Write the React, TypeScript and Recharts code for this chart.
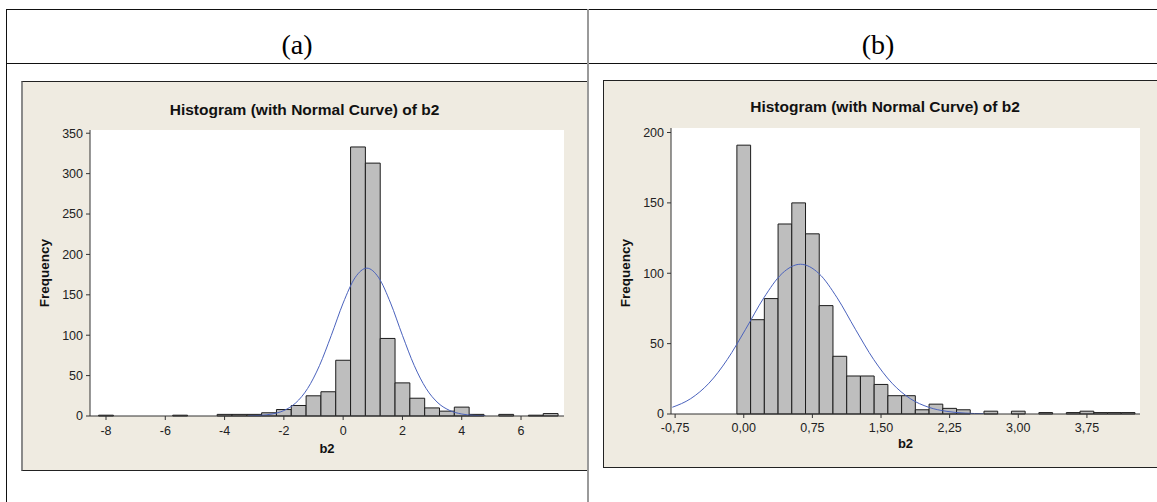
import React from 'react';
import {
  ComposedChart,
  Line,
  XAxis,
  YAxis,
  CartesianGrid,
  ReferenceArea,
} from 'recharts';

// ---------- Panel (a) data ----------
const BIN_WIDTH_A = 0.5;
const BIN_CENTERS_A = [-8, -5.5, -4, -3.5, -3, -2.5, -2, -1.5, -1, -0.5, 0, 0.5, 1, 1.5, 2, 2.5, 3, 3.5, 4, 4.5, 5.5, 6.5, 7];
const COUNTS_A = [1, 1, 2, 2, 2, 4, 8, 13, 25, 30, 69, 333, 313, 96, 41, 22, 10, 6, 11, 2, 2, 1, 3];
const CURVE_X_A = [-3.2, -2.8, -2.4, -2.0, -1.6, -1.2, -0.8, -0.4, 0.0, 0.4, 0.8, 1.2, 1.6, 2.0, 2.4, 2.8, 3.2, 3.6, 4.0, 4.4, 4.8];
const CURVE_Y_A = [0.22, 0.78, 2.46, 6.75, 16.2, 34.0, 62.3, 99.8, 139.8, 171.1, 183, 171.1, 139.8, 99.8, 62.3, 34.0, 16.2, 6.75, 2.46, 0.78, 0.22];
const X_TICKS_A = [-8, -6, -4, -2, 0, 2, 4, 6];
const Y_TICKS_A = [0, 50, 100, 150, 200, 250, 300, 350];
const X_DOMAIN_A: [number, number] = [-8.54, 7.45];
const Y_DOMAIN_A: [number, number] = [0, 354];

// ---------- Panel (b) data ----------
const BIN_WIDTH_B = 0.15;
const BIN_CENTERS_B = [0, 0.15, 0.3, 0.45, 0.6, 0.75, 0.9, 1.05, 1.2, 1.35, 1.5, 1.65, 1.8, 1.95, 2.1, 2.25, 2.4, 2.55, 2.7, 2.85, 3.0, 3.15, 3.3, 3.45, 3.6, 3.75, 3.9, 4.05, 4.2];
const COUNTS_B = [191, 67, 82, 135, 150, 128, 77, 41, 27, 27, 21, 13, 13, 3, 7, 4, 3, 0, 2, 0, 2, 0, 1, 0, 1, 2, 1, 1, 1];
const CURVE_X_B = [-0.78, -0.58, -0.38, -0.18, 0.02, 0.22, 0.42, 0.62, 0.82, 1.02, 1.22, 1.42, 1.62, 1.82, 2.02, 2.22, 2.42, 2.62];
const CURVE_Y_B = [4.8, 10.9, 21.9, 38.7, 60.2, 82.6, 99.9, 106.4, 99.9, 82.6, 60.2, 38.7, 21.9, 10.9, 4.8, 1.86, 0.63, 0.19];
const X_TICKS_B = [-0.75, 0, 0.75, 1.5, 2.25, 3.0, 3.75];
const Y_TICKS_B = [0, 50, 100, 150, 200];
const X_DOMAIN_B: [number, number] = [-0.795, 4.33];
const Y_DOMAIN_B: [number, number] = [0, 203.2];

const TITLE = 'Histogram (with Normal Curve) of b2';
const X_LABEL = 'b2';
const Y_LABEL = 'Frequency';
const HEADERS = ['(a)', '(b)'];

const FONT = '"Liberation Sans", Arial, Helvetica, sans-serif';
const BOX_BG = '#efebe1';
const BAR_FILL = '#bebebe';
const BAR_STROKE = '#1c1c1c';
const CURVE = '#4a62bd';
const AXIS = '#333333';
const FRAME = '#4a4a4a';
const TICK_TEXT = '#222222';

const tickStyle = { fontSize: 12.5, fill: TICK_TEXT, fontFamily: FONT };

const fmtComma = (v: number) => v.toFixed(2).replace('.', ',');

interface HistProps {
  width: number;
  height: number;
  margin: { top: number; right: number; bottom: number; left: number };
  yAxisWidth: number;
  xAxisHeight: number;
  centers: number[];
  counts: number[];
  binWidth: number;
  curveX: number[];
  curveY: number[];
  xTicks: number[];
  yTicks: number[];
  xDomain: [number, number];
  yDomain: [number, number];
  xTickMargin: number;
  xFormatter?: (v: number) => string;
}

function Histogram(p: HistProps) {
  const curveData = p.curveX.map((x, i) => ({ x, y: p.curveY[i] }));
  return (
    <ComposedChart width={p.width} height={p.height} data={curveData} margin={p.margin}>
      <CartesianGrid horizontal={false} vertical={false} fill="#ffffff" stroke="none" />
      <XAxis
        type="number"
        dataKey="x"
        domain={p.xDomain}
        ticks={p.xTicks}
        interval={0}
        allowDataOverflow
        height={p.xAxisHeight}
        tickSize={4}
        tickMargin={p.xTickMargin}
        tick={tickStyle}
        tickFormatter={p.xFormatter}
        stroke={AXIS}
      />
      <XAxis
        xAxisId="top"
        orientation="top"
        type="number"
        domain={p.xDomain}
        allowDataOverflow
        height={0}
        tick={false}
        tickLine={false}
        stroke={FRAME}
      />
      <YAxis
        type="number"
        domain={p.yDomain}
        ticks={p.yTicks}
        interval={0}
        allowDataOverflow
        width={p.yAxisWidth}
        tickSize={4}
        tickMargin={3}
        tick={tickStyle}
        stroke={AXIS}
      />
      <YAxis
        yAxisId="right"
        orientation="right"
        type="number"
        domain={p.yDomain}
        allowDataOverflow
        width={0}
        tick={false}
        tickLine={false}
        stroke={FRAME}
      />
      {p.centers.map((c, i) =>
        p.counts[i] > 0 ? (
          <ReferenceArea
            key={i}
            x1={c - p.binWidth / 2}
            x2={c + p.binWidth / 2}
            y1={0}
            y2={p.counts[i]}
            fill={BAR_FILL}
            fillOpacity={1}
            stroke={BAR_STROKE}
            strokeWidth={1}
            ifOverflow="visible"
          />
        ) : null
      )}
      <Line
        type="monotone"
        dataKey="y"
        stroke={CURVE}
        strokeWidth={1}
        dot={false}
        activeDot={false}
        isAnimationActive={false}
      />
    </ComposedChart>
  );
}

function Txt(props: {
  x: number;
  y: number;
  size: number;
  bold?: boolean;
  rotate?: number;
  family?: string;
  color?: string;
  children: React.ReactNode;
}) {
  return (
    <div
      style={{
        position: 'absolute',
        left: props.x,
        top: props.y,
        transform: `translate(-50%, -50%) rotate(${props.rotate || 0}deg)`,
        fontSize: props.size,
        fontWeight: props.bold ? 700 : 400,
        fontFamily: props.family || FONT,
        color: props.color || '#111',
        lineHeight: 1,
        whiteSpace: 'nowrap',
      }}
    >
      {props.children}
    </div>
  );
}

function Rect(props: { l: number; t: number; w: number; h: number; bg: string }) {
  return (
    <div
      style={{
        position: 'absolute',
        left: props.l,
        top: props.t,
        width: props.w,
        height: props.h,
        background: props.bg,
      }}
    />
  );
}

const SERIF = '"Liberation Serif", "Times New Roman", serif';

export default function App() {
  return (
    <div
      style={{
        position: 'absolute',
        left: 0,
        top: 0,
        width: 1157,
        height: 502,
        overflow: 'hidden',
        background: '#ffffff',
        fontFamily: FONT,
      }}
    >
      {/* table lines */}
      <Rect l={6} t={9} w={1151} h={1} bg="#111" />
      <Rect l={6} t={63} w={1151} h={1} bg="#111" />
      <Rect l={6} t={9} w={1} h={493} bg="#111" />

      {/* header cells */}
      <Txt x={297} y={45} size={28} family={SERIF} color="#000">
        {HEADERS[0]}
      </Txt>
      <Txt x={878} y={45} size={28} family={SERIF} color="#000">
        {HEADERS[1]}
      </Txt>

      {/* panel (a) box */}
      <div
        style={{
          position: 'absolute',
          left: 21,
          top: 81,
          width: 567,
          height: 390,
          boxSizing: 'border-box',
          background: BOX_BG,
          borderTop: '1px solid #222',
          borderBottom: '1px solid #222',
          borderLeft: '2px solid #8a8a8a',
        }}
      />
      {/* panel (b) box */}
      <div
        style={{
          position: 'absolute',
          left: 603,
          top: 80,
          width: 620,
          height: 388,
          boxSizing: 'border-box',
          background: BOX_BG,
          border: '1px solid #222',
        }}
      />

      {/* divider */}
      <Rect l={587} t={9} w={2} h={493} bg="#9a9a9a" />

      {/* chart (a) */}
      <div style={{ position: 'absolute', left: 21, top: 81 }}>
        <Histogram
          width={567}
          height={389}
          margin={{ top: 49, right: 24, bottom: 0, left: 0 }}
          yAxisWidth={69}
          xAxisHeight={54}
          centers={BIN_CENTERS_A}
          counts={COUNTS_A}
          binWidth={BIN_WIDTH_A}
          curveX={CURVE_X_A}
          curveY={CURVE_Y_A}
          xTicks={X_TICKS_A}
          yTicks={Y_TICKS_A}
          xDomain={X_DOMAIN_A}
          yDomain={Y_DOMAIN_A}
          xTickMargin={6}
        />
      </div>
      <Txt x={304.5} y={109.7} size={15.5} bold>
        {TITLE}
      </Txt>
      <Txt x={327} y={447.6} size={13} bold>
        {X_LABEL}
      </Txt>
      <Txt x={45.4} y={273} size={13.5} bold rotate={-90}>
        {Y_LABEL}
      </Txt>

      {/* chart (b) */}
      <div style={{ position: 'absolute', left: 603, top: 80 }}>
        <Histogram
          width={554}
          height={387}
          margin={{ top: 48, right: 17, bottom: 0, left: 0 }}
          yAxisWidth={68}
          xAxisHeight={53}
          centers={BIN_CENTERS_B}
          counts={COUNTS_B}
          binWidth={BIN_WIDTH_B}
          curveX={CURVE_X_B}
          curveY={CURVE_Y_B}
          xTicks={X_TICKS_B}
          yTicks={Y_TICKS_B}
          xDomain={X_DOMAIN_B}
          yDomain={Y_DOMAIN_B}
          xTickMargin={5}
          xFormatter={fmtComma}
        />
      </div>
      <Txt x={885} y={107.4} size={15.5} bold>
        {TITLE}
      </Txt>
      <Txt x={905.5} y={442.6} size={13} bold>
        {X_LABEL}
      </Txt>
      <Txt x={626.2} y={272.5} size={13.5} bold rotate={-90}>
        {Y_LABEL}
      </Txt>
    </div>
  );
}
